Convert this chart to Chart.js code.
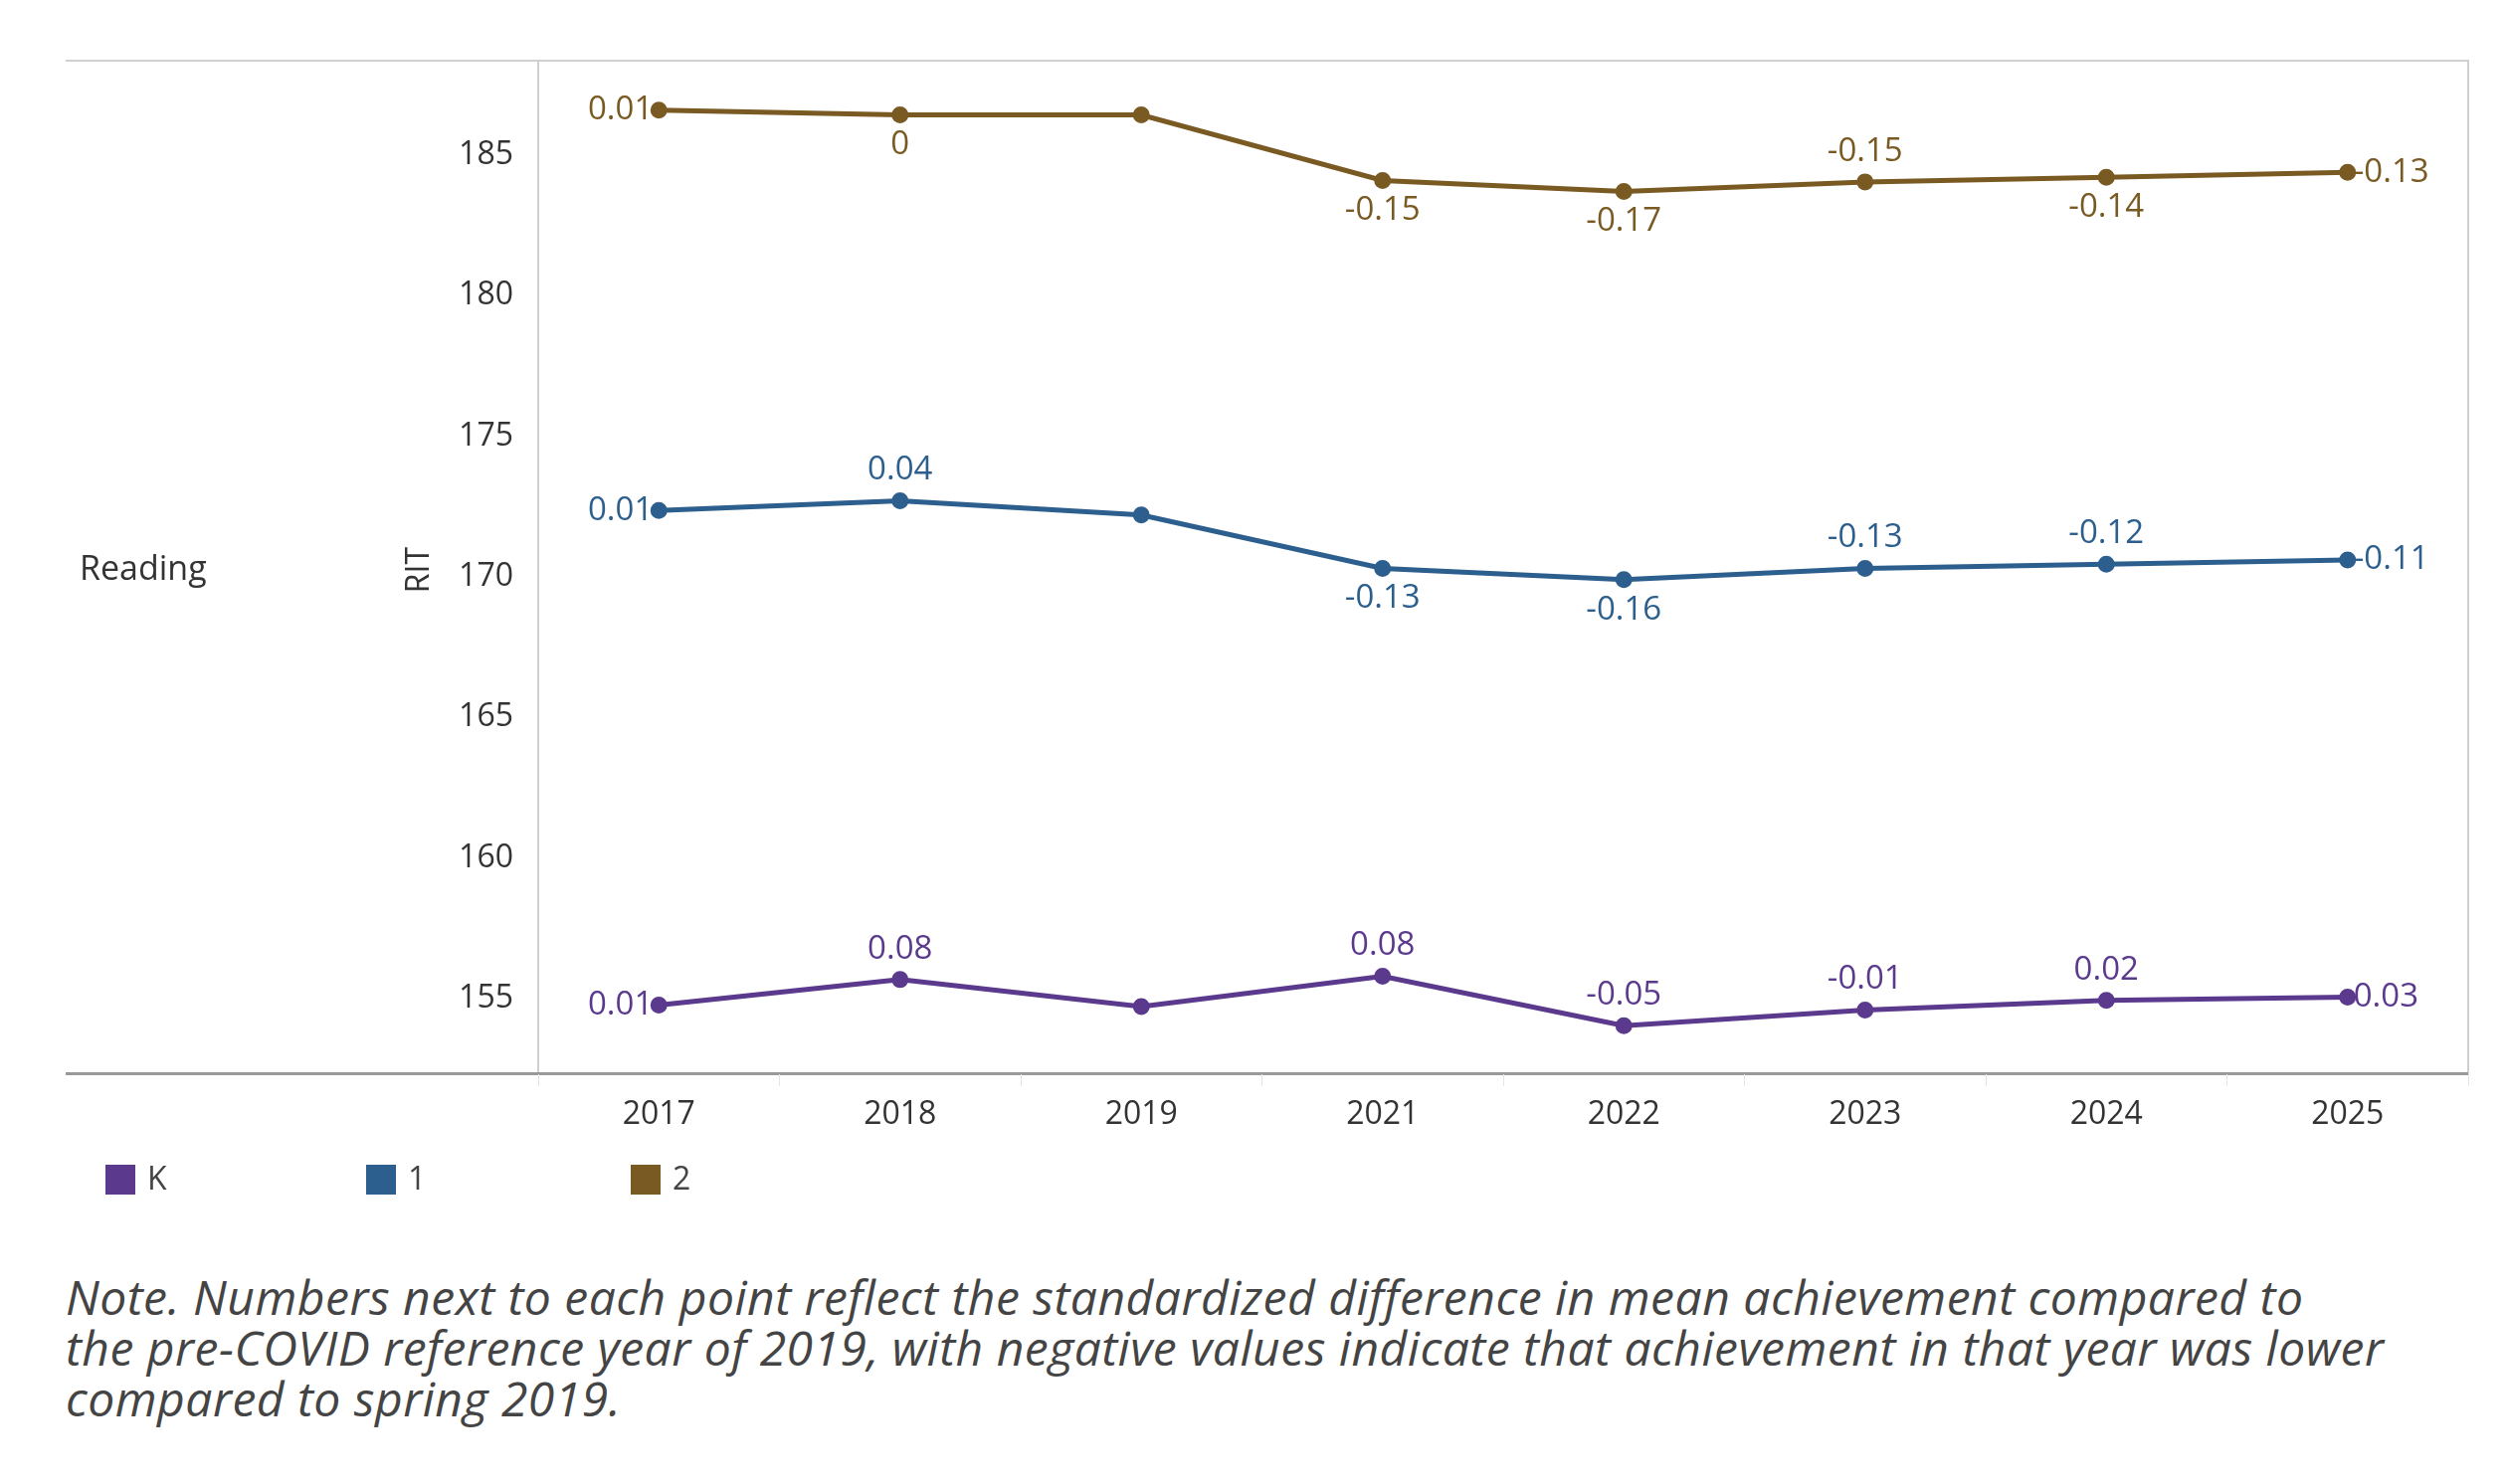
<!DOCTYPE html>
<html><head><meta charset="utf-8">
<script src="https://cdn.jsdelivr.net/npm/chart.js@4"></script>
<style>
body{margin:0;background:#fff;font-family:"Open Sans",sans-serif;}
#wrap{position:absolute;left:0;top:0;width:2518px;height:1170px;}
#legend{position:absolute;top:1162px;left:106px;font-size:32px;color:#444;}
.li{position:absolute;top:0;white-space:nowrap;}
.sw{display:inline-block;width:30px;height:30px;vertical-align:-5px;margin-right:12px;}
#note{position:absolute;left:66px;top:1278px;width:2440px;font-size:48px;font-style:italic;color:#444;line-height:51px;white-space:nowrap;letter-spacing:0.5px;}
</style></head><body>
<div id="wrap"><canvas id="c"></canvas></div>
<div id="legend"></div>
<div id="note">Note. Numbers next to each point reflect the standardized difference in mean achievement compared to<br>the pre-COVID reference year of 2019, with negative values indicate that achievement in that year was lower<br>compared to spring 2019.</div>
<script>
const years=["2017","2018","2019","2021","2022","2023","2024","2025"];
const gradeK=[154.77,155.68,154.72,155.8,154.04,154.6,154.94,155.06];
const grade1=[172.36,172.7,172.2,170.3,169.9,170.3,170.45,170.6];
const grade2=[186.59,186.42,186.42,184.09,183.7,184.04,184.2,184.38];
const labelsK=["0.01","0.08","","0.08","-0.05","-0.01","0.02","0.03"];
const labels1=["0.01","0.04","","-0.13","-0.16","-0.13","-0.12","-0.11"];
const labels2=["0.01","0","","-0.15","-0.17","-0.15","-0.14","-0.13"];
const posK=["l","a","","a","a","a","a","r"];
const pos1=["l","a","","b","b","a","a","r"];
const pos2=["l","b","","b","b","a","b","r"];
const yTicks=[155,160,165,170,175,180,185];
const colors=["#5B3A8E","#2C5F8E","#7A5A23"];
const names=["K","1","2"];

const lg=document.getElementById('legend');
[0,262,528].forEach((x,i)=>{lg.innerHTML+=`<span class="li" style="left:${x}px"><span class="sw" style="background:${colors[i]}"></span>${names[i]}</span>`;});

const mk=(d,i,lab,pos)=>({label:names[i],data:d,borderColor:colors[i],backgroundColor:colors[i],borderWidth:5,pointRadius:6,pointHoverRadius:6,tension:0,dl:lab,dp:pos});

const deco={id:'deco',
 beforeDraw(ch){const c=ch.ctx,a=ch.chartArea;c.save();
  c.strokeStyle='#d0d0d0';c.lineWidth=2;
  c.beginPath();c.moveTo(66,a.top);c.lineTo(a.right,a.top);c.lineTo(a.right,a.bottom);c.moveTo(a.left,a.top);c.lineTo(a.left,a.bottom);c.stroke();
  c.strokeStyle='#999';c.lineWidth=3;c.beginPath();c.moveTo(66,a.bottom);c.lineTo(a.right,a.bottom);c.stroke();
  c.fillStyle='#333';c.font='34px "Open Sans"';c.textBaseline='middle';c.textAlign='left';
  c.fillText('Reading',80,573);
  c.translate(422,573);c.rotate(-Math.PI/2);c.textAlign='center';c.font='32px "Open Sans"';c.fillText('RIT',0,0);
  c.restore();},
 afterDatasetsDraw(ch){const c=ch.ctx;c.save();c.font='33px "Open Sans"';
  ch.data.datasets.forEach((ds,i)=>{const m=ch.getDatasetMeta(i);c.fillStyle=ds.borderColor;
   m.data.forEach((p,j)=>{const t=ds.dl[j];if(!t)return;const q=ds.dp[j];
    if(q==='l'){c.textAlign='right';c.textBaseline='middle';c.fillText(t,p.x-6,p.y);}
    else if(q==='r'){c.textAlign='left';c.textBaseline='middle';c.fillText(t,p.x+6,p.y);}
    else if(q==='a'){c.textAlign='center';c.textBaseline='bottom';c.fillText(t,p.x,p.y-14);}
    else {c.textAlign='center';c.textBaseline='top';c.fillText(t,p.x,p.y+14);}
   });});c.restore();}};

new Chart(document.getElementById('c'),{type:'line',
 data:{labels:years,datasets:[mk(gradeK,0,labelsK,posK),mk(grade1,1,labels1,pos1),mk(grade2,2,labels2,pos2)]},
 options:{responsive:true,maintainAspectRatio:false,animation:false,
  layout:{padding:{left:300,right:37,top:61,bottom:20}},
  plugins:{legend:{display:false},tooltip:{enabled:false}},
  scales:{
   x:{offset:true,border:{display:false},grid:{offset:true,drawOnChartArea:false,tickLength:12,color:'#e4e4e4'},
      ticks:{color:'#333',font:{size:32,family:'"Open Sans"'},padding:10}},
   y:{min:152.33,max:188.35,border:{display:false},grid:{display:false},
      afterBuildTicks(ax){ax.ticks=yTicks.map(v=>({value:v}));},
      afterFit(ax){ax.width=241;},
      ticks:{color:'#333',font:{size:32,family:'"Open Sans"'},padding:17}}}},
 plugins:[deco]});
</script></body></html>
